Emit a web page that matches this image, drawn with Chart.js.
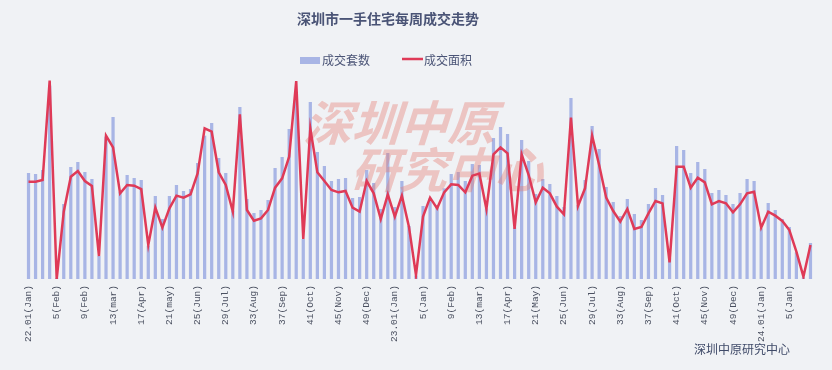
<!DOCTYPE html>
<html>
<head>
<meta charset="utf-8">
<title>深圳市一手住宅每周成交走势</title>
<style>
    html, body { margin: 0; padding: 0; background: #f0f2f5; }
    #wrap { width: 832px; height: 370px; }
</style>
</head>
<body>
<div id="wrap"><canvas id="chart" width="832" height="370"></canvas></div>
<script src="https://cdn.jsdelivr.net/npm/chart.js@4"></script>
<script>
// tick labels, one every 4 weeks (2022 wk1 .. 2024 wk8)
var tickLabels = ['22.01(Jan)', '5(Feb)', '9(Feb)', '13(mar)', '17(Apr)', '21(may)', '25(Jun)', '29(Jul)',
    '33(Aug)', '37(Sep)', '41(Oct)', '45(Nov)', '49(Dec)',
    '23.01(Jan)', '5(Jan)', '9(Feb)', '13(mar)', '17(Apr)', '21(May)', '25(Jun)', '29(Jul)',
    '33(Aug)', '37(Sep)', '41(Oct)', '45(Nov)', '49(Dec)',
    '24.01(Jan)', '5(Jan)'];

// 成交套数 (sets)
var units = [636, 630, 654, 1160, 6, 450, 672, 702, 642, 600, 138, 854, 972, 524, 624, 606, 594, 200, 498, 360,
    498, 564, 528, 540, 696, 860, 936, 726, 636, 410, 1032, 480, 396, 414, 474, 666, 732, 900, 1120, 240,
    1062, 762, 678, 588, 600, 606, 486, 492, 654, 576, 420, 756, 432, 588, 318, 20, 438, 484, 444, 544,
    630, 642, 588, 690, 684, 424, 846, 912, 870, 310, 834, 708, 510, 600, 570, 498, 432, 1086, 444, 594,
    918, 780, 552, 462, 378, 480, 390, 354, 450, 546, 504, 124, 798, 774, 636, 702, 660, 516, 534, 504,
    450, 516, 600, 588, 304, 456, 414, 360, 312, 160, 10, 216];

// 成交面积 (m2)
var area = [58400, 58400, 59400, 119000, 0, 40400, 61400, 64800, 58800, 55800, 13800, 86000, 79000, 51400, 56400, 56000, 54000, 20400, 42800, 30800,
    42400, 50000, 48800, 50800, 63400, 90400, 88400, 64000, 56400, 40400, 98800, 41400, 35000, 36400, 41400, 54800, 60400, 73400, 118800, 24000,
    90400, 64000, 58800, 53400, 52000, 52800, 42800, 40400, 58800, 51400, 36000, 50800, 37400, 50000, 31400, 2400, 37400, 48800, 42400, 52000,
    56800, 56400, 52000, 62000, 63200, 42000, 74800, 79000, 75400, 30000, 74800, 62400, 46000, 54800, 51400, 43400, 38800, 96800, 43800, 54400,
    86000, 68400, 48800, 40800, 34400, 42000, 30000, 31200, 39400, 46800, 45400, 10000, 67400, 67400, 54800, 60800, 58000, 44800, 46800, 45400,
    40000, 44800, 51400, 52400, 30800, 40400, 38000, 34800, 29400, 16400, 1400, 20400];

var barColor = '#a8b5e5';
var lineColor = '#df3a57';

var categories = [];
for (var i = 0; i < units.length; i++) {
    categories.push(i % 4 === 0 ? tickLabels[i / 4] : '');
}

var decor = {
    id: 'decor',
    beforeDraw: function (chart) {
        var ctx = chart.ctx;
        ctx.save();
        ctx.fillStyle = '#f0f2f5';
        ctx.fillRect(0, 0, chart.width, chart.height);
        ctx.restore();
    },
    afterDatasetDraw: function (chart, args) {
        if (args.index !== 0) return;
        // watermark between bars and line
        var ctx = chart.ctx;
        ctx.save();
        ctx.fillStyle = 'rgba(228, 120, 110, 0.38)';
        ctx.font = 'bold 48px "Noto Sans CJK SC"';
        ctx.textBaseline = 'alphabetic';
        ctx.translate(303, 141);
        ctx.transform(1, 0, -0.32, 1, 0, 0);
        ctx.fillText('深圳中原', 0, 0);
        ctx.restore();
        ctx.save();
        ctx.fillStyle = 'rgba(228, 120, 110, 0.38)';
        ctx.font = 'bold 48px "Noto Sans CJK SC"';
        ctx.translate(350, 188);
        ctx.transform(1, 0, -0.32, 1, 0, 0);
        ctx.fillText('研究中心', 0, 0);
        ctx.restore();
    },
    afterDraw: function (chart) {
        var ctx = chart.ctx;
        ctx.save();
        ctx.textBaseline = 'middle';
        ctx.fillStyle = '#4a5476';
        ctx.font = 'bold 14px "Noto Sans CJK SC"';
        ctx.textAlign = 'center';
        ctx.fillText('深圳市一手住宅每周成交走势', 388, 19);

        ctx.textAlign = 'left';
        ctx.font = '12px "Noto Sans CJK SC"';
        ctx.fillStyle = barColor;
        ctx.fillRect(300, 57, 20, 7);
        ctx.fillStyle = '#4a5476';
        ctx.fillText('成交套数', 322, 60);
        ctx.strokeStyle = lineColor;
        ctx.lineWidth = 2.5;
        ctx.beginPath();
        ctx.moveTo(402, 59);
        ctx.lineTo(423, 59);
        ctx.stroke();
        ctx.fillText('成交面积', 424, 60);

        ctx.font = '12px "Noto Sans CJK SC"';
        ctx.fillStyle = '#3f4a68';
        ctx.fillText('深圳中原研究中心', 694, 349);
        ctx.restore();
    }
};

new Chart(document.getElementById('chart'), {
    type: 'bar',
    data: {
        labels: categories,
        datasets: [{
            type: 'bar',
            label: '成交套数',
            data: units,
            backgroundColor: barColor,
            barPercentage: 0.46,
            categoryPercentage: 1,
            yAxisID: 'y',
            order: 2
        }, {
            type: 'line',
            label: '成交面积',
            data: area,
            borderColor: lineColor,
            borderWidth: 2.5,
            pointRadius: 0,
            tension: 0,
            yAxisID: 'y1',
            order: 1
        }]
    },
    options: {
        responsive: false,
        animation: false,
        layout: { padding: { left: 25, right: 18, top: 79, bottom: 0 } },
        plugins: {
            legend: { display: false },
            title: { display: false },
            tooltip: { enabled: false }
        },
        scales: {
            x: {
                offset: true,
                grid: { display: false, drawTicks: false },
                border: { display: false },
                ticks: {
                    autoSkip: false,
                    minRotation: 90,
                    maxRotation: 90,
                    padding: 6,
                    color: '#4a5060',
                    font: { family: 'Liberation Mono', size: 9.5 }
                },
                afterFit: function (scale) { scale.height = 91; }
            },
            y: { display: false, min: 0, max: 1200 },
            y1: { display: false, min: 0, max: 120000 }
        }
    },
    plugins: [decor]
});
</script>
</body>
</html>
